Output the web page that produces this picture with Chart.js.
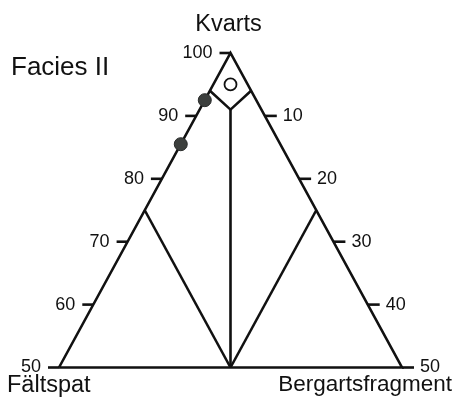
<!DOCTYPE html>
<html>
<head>
<meta charset="utf-8">
<script src="https://cdn.jsdelivr.net/npm/chart.js@4.4.1/dist/chart.umd.min.js"></script>
<style>
  html, body { margin: 0; padding: 0; background: #fff; }
  #wrap { width: 457px; height: 408px; position: relative; }
</style>
</head>
<body>
<div id="wrap"><canvas id="qfl"></canvas></div>
<script>
// every point is [kvarts, fältspat, bergartsfragment] in percent
const leftTicks = [50, 60, 70, 80, 90, 100];  // kvarts, along the F-Q side
const rightTicks = [10, 20, 30, 40, 50];      // bergartsfragment, along the Q-L side

const outline = [[50, 50, 0], [100, 0, 0], [50, 0, 50], [50, 50, 0]];
const diamond = [[94, 6, 0], [91, 4.5, 4.5], [94, 0, 6]];
const midLine = [[91, 4.5, 4.5], [50, 25, 25]];
const feldsparLine = [[75, 25, 0], [50, 25, 25]];
const rockLine = [[75, 0, 25], [50, 25, 25]];

const samplesFilled = [[92.5, 7.5, 0], [85.5, 14.5, 0]];
const samplesOpen = [[95, 2.5, 2.5]];

const ink = '#111';
const font = (size) => size + 'px "Liberation Sans", Arial, sans-serif';

// ternary -> cartesian: L to the right, Q upwards
const toXY = ([q, f, l]) => ({ x: l + q / 2, y: q });

const lineSet = (pts) => ({
  data: pts.map(toXY),
  showLine: true,
  borderColor: ink,
  borderWidth: 2.6,
  pointRadius: 0,
  tension: 0,
  clip: false,
  order: 1
});

const ternaryLabels = {
  id: 'ternaryLabels',
  afterDraw(chart) {
    const { ctx, scales: { x, y } } = chart;
    const px = (p) => {
      const c = toXY(p);
      return [x.getPixelForValue(c.x), y.getPixelForValue(c.y)];
    };
    ctx.save();
    ctx.strokeStyle = ink;
    ctx.fillStyle = ink;
    ctx.lineWidth = 2.6;
    ctx.font = font(18);
    ctx.textBaseline = 'middle';

    leftTicks.forEach(v => {
      const [cx, cy] = px([v, 100 - v, 0]);
      ctx.beginPath();
      ctx.moveTo(cx, cy);
      ctx.lineTo(cx - 11, cy);
      ctx.stroke();
      ctx.textAlign = 'right';
      ctx.fillText(String(v), cx - 18, cy);
    });

    rightTicks.forEach(v => {
      const [cx, cy] = px([100 - v, 0, v]);
      ctx.beginPath();
      ctx.moveTo(cx, cy);
      ctx.lineTo(cx + 12, cy);
      ctx.stroke();
      ctx.textAlign = 'left';
      ctx.fillText(String(v), cx + 18, cy);
    });

    // corner names
    ctx.textBaseline = 'alphabetic';
    const [qx, qy] = px([100, 0, 0]);
    const [fx, fy] = px([50, 50, 0]);
    const [lx, ly] = px([50, 0, 50]);
    ctx.font = font(23.5);
    ctx.textAlign = 'center';
    ctx.fillText('Kvarts', qx - 2, qy - 22);
    ctx.textAlign = 'left';
    ctx.fillText('Fältspat', fx - 52, fy + 24);
    ctx.font = font(22.5);
    ctx.textAlign = 'right';
    ctx.fillText('Bergartsfragment', lx + 50, ly + 23);

    ctx.font = font(26);
    ctx.textAlign = 'left';
    ctx.fillText('Facies II', 11, 75);
    ctx.restore();
  }
};

new Chart(document.getElementById('qfl'), {
  type: 'scatter',
  data: {
    datasets: [
      {
        data: samplesFilled.map(toXY),
        pointRadius: 6.5,
        backgroundColor: '#3c3f3d',
        borderColor: '#2a2c2b',
        borderWidth: 1,
        clip: false,
        order: 0
      },
      {
        data: samplesOpen.map(toXY),
        pointRadius: 6,
        backgroundColor: '#fff',
        borderColor: ink,
        borderWidth: 1.8,
        clip: false,
        order: 0
      },
      lineSet(outline),
      lineSet(diamond),
      lineSet(midLine),
      lineSet(feldsparLine),
      lineSet(rockLine)
    ]
  },
  options: {
    responsive: true,
    maintainAspectRatio: false,
    animation: false,
    events: [],
    layout: {
      autoPadding: false,
      padding: { left: 59, right: 55, top: 53, bottom: 40.5 }
    },
    scales: {
      x: { type: 'linear', min: 25, max: 75, display: false },
      y: { type: 'linear', min: 50, max: 100, display: false }
    },
    plugins: {
      legend: { display: false },
      tooltip: { enabled: false }
    }
  },
  plugins: [ternaryLabels]
});
</script>
</body>
</html>
